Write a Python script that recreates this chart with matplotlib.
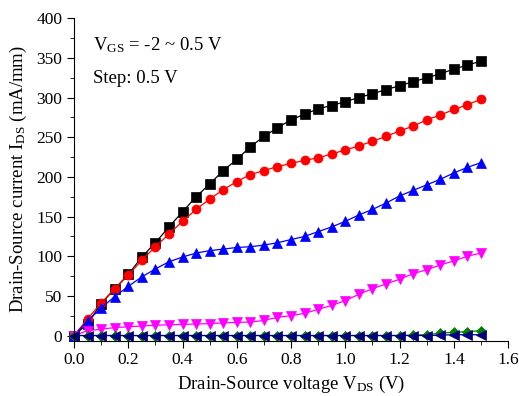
import matplotlib
matplotlib.use("Agg")
import matplotlib.pyplot as plt
import matplotlib.ticker as ticker

plt.rcParams["font.family"] = ["Liberation Serif", "DejaVu Serif"]
plt.rcParams["mathtext.fontset"] = "custom"
plt.rcParams["mathtext.rm"] = "Liberation Serif"
plt.rcParams["mathtext.it"] = "Liberation Serif"

VDS = [0.0, 0.05, 0.1, 0.15, 0.2, 0.25, 0.3, 0.35, 0.4, 0.45, 0.5,
       0.55, 0.6, 0.65, 0.7, 0.75, 0.8, 0.85, 0.9, 0.95, 1.0,
       1.05, 1.1, 1.15, 1.2, 1.25, 1.3, 1.35, 1.4, 1.45, 1.5]

# VGS = 0.5 V
ids_05 = [0, 15, 40, 59, 77, 99, 117, 137, 156, 175, 191,
          208, 222, 238, 251, 262, 272, 279, 286, 290, 295,
          300, 305, 310, 315, 320, 325, 330, 336, 341, 346]
# VGS = 0 V
ids_00 = [0, 21, 41, 59, 76, 95, 112, 128, 144, 159, 172,
          184, 194, 203, 208, 213, 217, 221, 224, 229, 234,
          239, 245, 251, 258, 264, 272, 278, 285, 291, 298]
# VGS = -0.5 V
ids_m05 = [0, 18, 35, 49, 62, 74, 84, 93, 99, 104, 107,
           109, 111, 112, 114, 117, 121, 125, 131, 137, 144,
           152, 159, 167, 176, 183, 190, 197, 205, 212, 218]
# VGS = -1 V
ids_m10 = [0, 6, 8, 10, 11, 12, 13, 13.5, 14, 14.5, 15,
           16, 16.5, 17, 19, 23, 25, 28, 33, 38, 44,
           52, 59, 65, 71, 78, 83, 89, 94, 100, 104]
# VGS = -1.5 V
ids_m15 = [0, 0, 0, 0, 0, 0, 0, 0, 0, 0, 0,
           0, 0, 0, 0, 0, 0, 0, 0, 0, 0,
           0, 0, 0, 0, 0.5, 1, 3, 4, 5, 6]
# VGS = -2 V
ids_m20 = [0, 0, 0, 0, 0, 0, 0, 0, 0, 0, 0,
           0, 0, 0, 0, 0, 0, 0, 0, 0, 0,
           0, 0, 0, 0, 0, 0, 0.5, 1, 1, 1]

series = [
    (ids_05, "s", "#000000"),
    (ids_00, "o", "#ff0000"),
    (ids_m05, "^", "#0000ff"),
    (ids_m10, "v", "#ff00ff"),
    (ids_m15, "D", "#008000"),
    (ids_m20, "<", "#000080"),
]

fig = plt.figure(figsize=(5.19, 3.96), dpi=100)
ax = fig.add_axes([0.1426, 0.1397, 0.8364, 0.8141])

for ids, marker, color in series:
    ms = 5 if marker == "D" else 6.5
    ax.plot(VDS, ids, marker=marker, color=color, linewidth=0.9,
            markersize=ms, markeredgewidth=0.5, clip_on=False)

ax.set_xlim(0, 1.6)
ax.set_ylim(-6.5, 400)
ax.xaxis.set_major_locator(ticker.MultipleLocator(0.2))
ax.xaxis.set_minor_locator(ticker.MultipleLocator(0.1))
ax.yaxis.set_major_locator(ticker.MultipleLocator(50))
ax.yaxis.set_minor_locator(ticker.MultipleLocator(25))
ax.xaxis.set_major_formatter(ticker.FormatStrFormatter("%.1f"))
ax.spines["top"].set_visible(False)
ax.spines["right"].set_visible(False)
ax.tick_params(which="both", direction="out", labelsize=12.5)
ax.tick_params(which="major", length=5)
ax.tick_params(which="minor", length=3)

ax.set_xlabel("Drain-Source voltage V$_{\\mathrm{DS}}$ (V)", fontsize=13.5,
              labelpad=4)
ax.set_ylabel("Drain-Source current I$_{\\mathrm{DS}}$ (mA/mm)", fontsize=13.5,
              labelpad=5)

ax.text(0.043, 0.90, "V$_{\\mathrm{GS}}$ = -2 ~ 0.5 V", transform=ax.transAxes,
        fontsize=13.5)
ax.text(0.043, 0.80, "Step: 0.5 V", transform=ax.transAxes, fontsize=13.5)

fig.savefig("out.png", dpi=100)
